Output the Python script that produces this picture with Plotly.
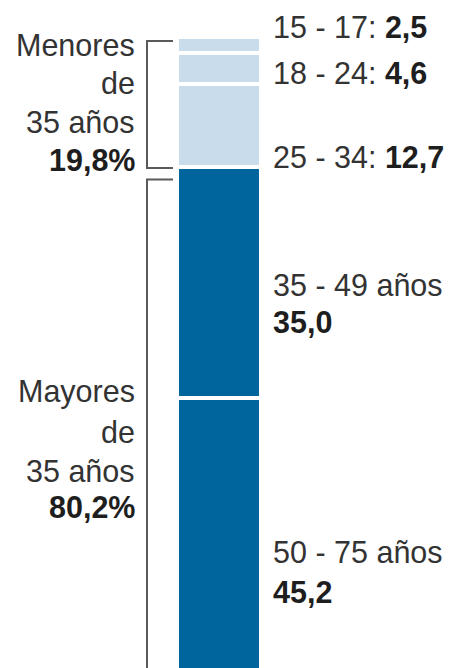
import plotly.graph_objects as go

# ---- data ----
age_groups = ["15 - 17", "18 - 24", "25 - 34", "35 - 49", "50 - 75"]
shares = [2.5, 4.6, 12.7, 35.0, 45.2]
value_labels = ["2,5", "4,6", "12,7", "35,0", "45,2"]
group_names = ["Menores de 35 años", "Mayores de 35 años"]
group_shares = ["19,8%", "80,2%"]

W, H = 451, 668
LIGHT = "#c9dcec"
DARK = "#00659c"
colors = [LIGHT, LIGHT, LIGHT, DARK, DARK]

fig = go.Figure()
for name, val, col in zip(age_groups, shares, colors):
    fig.add_trace(go.Bar(
        x=[219.3], y=[val], width=84, name=name,
        marker=dict(color=col, line=dict(color="white", width=4)),
        hoverinfo="name+y", showlegend=False,
    ))

FS = 30.5
REG = "#333333"
BOLD = "#1e1e1e"
FONT = "Liberation Sans, Arial, sans-serif"


def py(p):
    return 1 - p / H


def label(x, baseline, text, anchor, bold=False):
    center = baseline - 0.3465 * FS
    fig.add_annotation(
        x=x / W, y=py(center), xref="paper", yref="paper",
        text=text, showarrow=False, xanchor=anchor, yanchor="middle",
        font=dict(family=FONT, size=FS, color=BOLD if bold else REG),
        borderpad=0,
    )

# right-side labels
RX = 272
label(RX, 37.5, f"{age_groups[0]}: <b style='color:{BOLD}'>{value_labels[0]}</b>", "left")
label(RX, 84, f"{age_groups[1]}: <b style='color:{BOLD}'>{value_labels[1]}</b>", "left")
label(RX, 167.5, f"{age_groups[2]}: <b style='color:{BOLD}'>{value_labels[2]}</b>", "left")
label(RX, 296, f"{age_groups[3]} años", "left")
label(RX, 333, f"<b>{value_labels[3]}</b>", "left", bold=True)
label(RX, 563, f"{age_groups[4]} años", "left")
label(RX, 602.5, f"<b>{value_labels[4]}</b>", "left", bold=True)

# left-side group labels
LX = 136
w1 = group_names[0].split(" ")
label(LX, 56, w1[0], "right")
label(LX, 94, w1[1], "right")
label(LX, 132.5, " ".join(w1[2:]), "right")
label(LX, 171, f"<b>{group_shares[0]}</b>", "right", bold=True)
w2 = group_names[1].split(" ")
label(LX, 402.5, w2[0], "right")
label(LX, 442.5, w2[1], "right")
label(LX, 481.5, " ".join(w2[2:]), "right")
label(LX, 517.5, f"<b>{group_shares[1]}</b>", "right", bold=True)

# brackets
BR = "#5a5a5a"
def bracket(top, bottom, x0=147, x1=173):
    path = (f"M {x1/W},{py(top)} L {x0/W},{py(top)} "
            f"L {x0/W},{py(bottom)} L {x1/W},{py(bottom)}")
    fig.add_shape(type="path", path=path, xref="paper", yref="paper",
                  line=dict(color=BR, width=2))

bracket(41, 168)
bracket(179.5, 700)

fig.update_layout(
    width=W, height=H,
    margin=dict(l=0, r=0, t=0, b=0),
    paper_bgcolor="white", plot_bgcolor="white",
    barmode="stack",
    xaxis=dict(range=[0, W], visible=False, fixedrange=True),
    yaxis=dict(range=[95.75, -5.61], visible=False, fixedrange=True),
)

fig.write_html("out.html")
